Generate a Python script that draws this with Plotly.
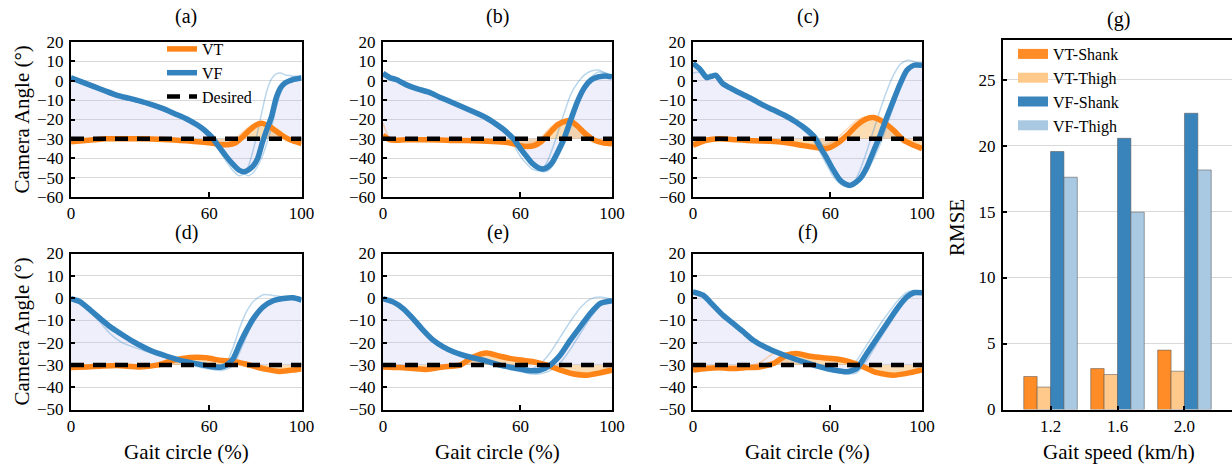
import plotly.graph_objects as go

W, H = 1232, 466
FONT = "Liberation Serif"

# ---------------- data ----------------
panel_names = ["(a)", "(b)", "(c)", "(d)", "(e)", "(f)"]
desired_angle = -30

# (a)
a_vf_x = [0, 10, 15, 20, 25, 30, 35, 40, 45, 50, 55, 58, 61, 64, 67, 70, 73, 75, 77, 79, 81, 83, 85, 87, 89, 91, 93, 96, 100]
a_vf = [1.5, -3, -5.3, -7.5, -9, -10.5, -12.3, -14.4, -17, -19.6, -23, -25.6, -29, -33.8, -38.5, -42.8, -46.2, -47, -46, -44, -40, -32, -25, -18.5, -9, -3.5, -1, 0.5, 1.5]
a_vf_t1 = [2.5, -2, -4.5, -6.5, -8.5, -10, -12, -14, -16.5, -19, -22, -24.5, -28, -35, -41, -46, -49, -48, -44, -36, -26, -15, -5, 1, 3.5, 4, 3, 2.5, 2]
a_vf_t2 = [0.5, -4, -6.5, -8.5, -10, -11.5, -13, -15, -17.5, -20.5, -24, -27, -30.5, -34, -38, -42, -45.5, -48, -49, -47.5, -44, -39, -32, -24, -14, -6, -1, 2, 2.5]
a_vt_x = [0, 5, 10, 15, 20, 30, 40, 50, 55, 60, 65, 68, 71, 74, 77, 80, 83, 86, 89, 92, 95, 100]
a_vt = [-31.5, -31, -30.5, -30, -30, -30, -30.3, -31, -31.5, -32, -33, -33, -32.3, -29.5, -26, -23, -22, -23.5, -26, -28.5, -30.5, -32.5]
a_vt_t1 = [-31, -30.5, -30, -29.5, -29.5, -29.5, -30, -30.5, -31, -31.5, -32, -32, -30.5, -27, -24, -22, -22.5, -24.5, -27, -29.5, -31, -32.5]

# (b)
b_vf_x = [0, 3, 6, 10, 15, 20, 25, 30, 35, 40, 45, 50, 53, 57, 60, 62, 65, 68, 70, 72, 74, 76, 79, 82, 85, 88, 91, 94, 97, 100]
b_vf = [3.8, 1.6, 0.5, -2, -4.2, -5.9, -8.6, -11.1, -13.7, -16.3, -19.1, -22.9, -25.5, -30, -35, -38, -42.5, -45, -45.5, -44.5, -42, -37.5, -30, -20, -10.5, -3.5, 0.5, 2, 2.5, 2]
b_vf_t1 = [4, 2.5, 1, -1.5, -4, -5.5, -8, -10.5, -13, -15.8, -18.5, -22.5, -25.8, -33, -39, -42, -45.5, -46.5, -45, -41, -35, -28, -17, -7, -1, 3, 5, 5.5, 4, 2.5]
b_vf_t2 = [3.5, 0.5, 1, -2.5, -4.5, -6.2, -9, -11.5, -14, -16.8, -19.5, -23.5, -27, -31, -36, -39.5, -43.5, -46, -47, -46.5, -44, -40, -33, -24, -13, -4, 2, 4.5, 4, 2.5]
b_vt_x = [0, 3, 10, 20, 30, 40, 50, 55, 60, 63, 66, 69, 72, 76, 80, 82, 85, 88, 92, 96, 100]
b_vt = [-28, -30.5, -30.5, -30.5, -30.8, -31, -31.5, -32, -33.5, -34, -33.5, -31.5, -28, -23, -20.8, -20.8, -23.5, -27, -30.5, -32, -32.5]
b_vt_t1 = [-22, -29.5, -30, -30, -30.5, -30.5, -31, -31.5, -32.5, -33, -32, -29.5, -25.5, -21.5, -20, -20, -22, -25.5, -29.5, -31.5, -32.5]

# (c)
c_vf_x = [0, 3, 6, 8, 10, 13, 16, 20, 25, 30, 35, 40, 45, 50, 53, 55.5, 58, 61, 64, 66.5, 68.6, 71, 73, 76, 79, 82, 84.7, 87.6, 90.5, 93.4, 96.4, 100]
c_vf = [9, 6, 1.6, 2.3, 2.8, -1.5, -3.6, -6.1, -8.9, -12.2, -15, -17.8, -21.3, -25.6, -29, -34.2, -39, -45.5, -51, -53.3, -54, -52.5, -50.5, -44.5, -35.9, -27.3, -18.7, -10, -1.5, 5.4, 8, 8]
c_vf_t1 = [8, 5, 3, 2.5, 3.5, -1, -3, -5.5, -8.5, -11.5, -14.5, -17, -20.5, -24, -27.5, -31, -37, -45, -51, -54, -54.5, -51, -46, -36, -25, -14, -5, 3, 8.5, 10.5, 10, 8]
c_vf_t2 = [4, 4.5, 2.5, 2, 2, -2, -4, -7, -9.5, -13, -16, -19, -22.5, -27.5, -31.5, -37, -42.5, -49, -53, -54.5, -54, -53, -51.5, -47, -40, -32, -23, -13, -3, 4, 7.5, 8]
c_vt_x = [0, 5.8, 11.7, 19, 26.3, 33.6, 40.9, 48.2, 55.5, 58.4, 62.8, 67.2, 71.5, 75.9, 78.8, 83.2, 87.6, 92, 96.4, 100]
c_vt = [-33.3, -30.7, -29.9, -30.5, -31, -31.2, -32, -33.5, -34.8, -35, -32.5, -28.2, -23, -19.6, -19, -21.3, -25.6, -30.7, -33.3, -35]
c_vt_t1 = [-32, -30, -29.5, -30, -30.5, -30.8, -31.5, -32.5, -33, -33, -30, -25, -20.5, -18.5, -18.5, -21, -26, -31, -33.5, -34.5]

# (d)
d_vf_x = [0, 4, 8.4, 12.7, 17, 21.4, 27.1, 34.3, 41.6, 48.8, 56, 61.8, 65, 67.5, 70.4, 73.3, 76.2, 79.1, 83.4, 87.7, 92.1, 96.4, 100]
d_vf = [-0.2, -1.7, -5.4, -9.2, -12.9, -15.9, -19.6, -23.4, -26.1, -28.3, -29.8, -30.8, -31, -30.1, -27.1, -20.4, -14.4, -9.2, -3.9, -1.2, -0.2, 0.1, -0.9]
d_vf_t1 = [0.5, -0.5, -6, -11, -16, -19.5, -22, -24.5, -27, -29, -31, -32, -31.5, -29, -22, -13, -6, -1.5, 1.5, 1.2, 0.5, 0, -0.5]
d_vf_t2 = [-0.5, -2.5, -5, -8.5, -12, -15, -19, -23, -26.5, -28.8, -30.5, -32, -32.5, -32, -30, -24, -17, -11, -5, -2, -0.5, 0, -0.8]
d_vt_x = [0, 6.9, 12.7, 19.9, 30, 37.2, 44.4, 51.7, 58.9, 64.6, 70.4, 77.6, 84.8, 90.6, 96.4, 100]
d_vt = [-31.2, -30.9, -30.6, -30.3, -30.9, -30.1, -27.9, -26.7, -26.8, -27.9, -28.3, -30.1, -32, -32.9, -32.3, -31.7]
d_vt_t1 = [-30.5, -30.5, -30, -30, -30.5, -29.5, -27.5, -26.5, -27, -28.5, -29.5, -31, -32, -32.5, -32, -31.5]

# (e)
e_vf_x = [0, 4.4, 8.8, 13.1, 17.5, 21.9, 26.3, 30.7, 36.5, 43.8, 51.1, 58.4, 64.2, 68.6, 73, 77.4, 81.8, 86.1, 90.5, 94.9, 100]
e_vf = [-0.2, -1.7, -4.7, -9.2, -14.4, -18.9, -21.9, -24.1, -26.1, -27.9, -30.1, -31.6, -32.6, -32.3, -30.1, -25.6, -18.9, -12.9, -6.9, -2.4, -1.2]
e_vf_t1 = [-0.2, -1.7, -4.7, -9.2, -14.4, -18.9, -21.9, -24.1, -26.1, -27.9, -30, -31.5, -32, -29.5, -24.5, -17.5, -10.5, -4.5, -0.5, 0.5, -0.5]
e_vf_t2 = [-0.2, -1.7, -4.7, -9.2, -14.4, -18.9, -21.9, -24.1, -26.1, -28, -30.5, -32.5, -34, -34, -32.5, -29, -23, -16, -9, -3.5, -1.5]
e_vt_x = [0, 7.3, 13.1, 19, 26.3, 33.6, 39.4, 45.3, 51.1, 58.4, 65.7, 71.5, 77.4, 83.2, 89.1, 94.9, 100]
e_vt = [-30.9, -31.2, -31.6, -32, -30.9, -30.1, -26.4, -24.6, -26.1, -27.6, -28.6, -30.1, -32.3, -34.1, -34.6, -33.5, -32.3]
e_vt_t1 = [-30.5, -30.5, -31, -31, -30.5, -29.5, -25.5, -24, -25.5, -27, -28.5, -30, -31.5, -33, -33.5, -33, -32]

# (f)
f_vf_x = [0, 4.4, 8.8, 13.1, 17.5, 21.9, 26.3, 32.1, 38, 43.8, 49.6, 55.5, 61.3, 67.2, 71.5, 75.9, 80.3, 84.7, 89.1, 93.4, 96.4, 100]
f_vf = [2.8, 1.3, -3.2, -7.7, -11.4, -15.1, -18.9, -22.3, -24.9, -27.1, -29.1, -30.9, -32.3, -33.1, -31.6, -24.9, -18.1, -11.4, -4.7, 0.6, 2.4, 2.4]
f_vf_t1 = [3.5, 2, -2.5, -7, -11, -14.5, -18.5, -22, -24.5, -27, -29, -31, -32.5, -33, -28, -21, -14, -7.5, -1.5, 2.5, 3.5, 2.5]
f_vf_t2 = [2, 0.5, -4, -8.5, -12, -15.5, -19.5, -23, -25.5, -27.5, -29.5, -31.5, -33, -34, -33.5, -28, -20.5, -13.5, -6.5, -1, 1.5, 2.5]
f_vt_x = [0, 5.8, 11.7, 17.5, 23.4, 29.2, 35, 40.9, 45.3, 51.1, 56.9, 62.8, 68.6, 74.5, 80.3, 87.6, 93.4, 100]
f_vt = [-32.3, -31.6, -31.3, -31.6, -31.2, -30.9, -29.4, -25.6, -24.9, -26.1, -26.8, -27.3, -28.6, -30.9, -33.5, -34.6, -33.8, -32.3]
f_vt_t1 = [-31.5, -31, -31, -31, -30.5, -29, -25, -24.5, -25, -26, -26.5, -27, -28.5, -31, -33, -34, -33.5, -32]

# (g) bar chart
speeds = ["1.2", "1.6", "2.0"]
vt_shank = [2.5, 3.1, 4.5]
vt_thigh = [1.7, 2.65, 2.9]
vf_shank = [19.55, 20.55, 22.45]
vf_thigh = [17.6, 14.95, 18.15]

x_ticks = [0, 60, 100]
# --------------------------------------

panels = [
    (a_vf_x, a_vf, [a_vf_t1, a_vf_t2], a_vt_x, a_vt, [a_vt_t1]),
    (b_vf_x, b_vf, [b_vf_t1, b_vf_t2], b_vt_x, b_vt, [b_vt_t1]),
    (c_vf_x, c_vf, [c_vf_t1, c_vf_t2], c_vt_x, c_vt, [c_vt_t1]),
    (d_vf_x, d_vf, [d_vf_t1, d_vf_t2], d_vt_x, d_vt, [d_vt_t1]),
    (e_vf_x, e_vf, [e_vf_t1, e_vf_t2], e_vt_x, e_vt, [e_vt_t1]),
    (f_vf_x, f_vf, [f_vf_t1, f_vf_t2], f_vt_x, f_vt, [f_vt_t1]),
]

C_VT = "#ff8418"
C_VF = "#3282be"
FILL_VF = "rgba(190,190,240,0.25)"
FILL_VT = "rgba(250,160,40,0.35)"
T_VF = "rgba(60,140,200,0.35)"
T_VT = "rgba(255,140,40,0.35)"

# pixel layout of panels (left, right, top, bottom)
col_px = [(71, 301.5), (383, 612), (693, 922)]
row_px = [(42, 197), (253.5, 409.5)]
g_px = (1003, 1232, 40, 409.5)

TICKFONT = dict(family=FONT, size=17, color="black")


def px_x(v):
    return v / W


def px_y(v):
    return 1 - v / H


fig = go.Figure()
layout = dict(
    template="none",
    width=W, height=H, margin=dict(l=0, r=0, t=0, b=0, pad=0, autoexpand=False),
    paper_bgcolor="white", plot_bgcolor="white",
    font=dict(family=FONT, size=16, color="black"),
    showlegend=True,
)
annotations = []

SP = dict(shape="spline", smoothing=0.6)

for i, (vfx, vf, vft, vtx, vt, vtt) in enumerate(panels):
    r, c = divmod(i, 3)
    k = i + 1
    xa = "x" if k == 1 else f"x{k}"
    ya = "y" if k == 1 else f"y{k}"
    base_x = [0, 100]
    base_y = [desired_angle, desired_angle]
    # VF fill
    fig.add_trace(go.Scatter(x=base_x, y=base_y, mode="lines", line=dict(width=0),
                             showlegend=False, hoverinfo="skip", xaxis=xa, yaxis=ya))
    fig.add_trace(go.Scatter(x=vfx, y=vf, mode="lines", line=dict(width=0, **SP), fill="tonexty",
                             fillcolor=FILL_VF, showlegend=False, hoverinfo="skip", xaxis=xa, yaxis=ya))
    # VT fill
    fig.add_trace(go.Scatter(x=base_x, y=base_y, mode="lines", line=dict(width=0),
                             showlegend=False, hoverinfo="skip", xaxis=xa, yaxis=ya))
    fig.add_trace(go.Scatter(x=vtx, y=vt, mode="lines", line=dict(width=0, **SP), fill="tonexty",
                             fillcolor=FILL_VT, showlegend=False, hoverinfo="skip", xaxis=xa, yaxis=ya))
    # trials
    for t in vft:
        fig.add_trace(go.Scatter(x=vfx, y=t, mode="lines", line=dict(color=T_VF, width=1.5, **SP),
                                 showlegend=False, hoverinfo="skip", xaxis=xa, yaxis=ya))
    for t in vtt:
        fig.add_trace(go.Scatter(x=vtx, y=t, mode="lines", line=dict(color=T_VT, width=1.5, **SP),
                                 showlegend=False, hoverinfo="skip", xaxis=xa, yaxis=ya))
    # means
    fig.add_trace(go.Scatter(x=vtx, y=vt, mode="lines", name="VT", line=dict(color=C_VT, width=5.5, **SP),
                             showlegend=(i == 0), legendrank=1, xaxis=xa, yaxis=ya))
    fig.add_trace(go.Scatter(x=vfx, y=vf, mode="lines", name="VF", line=dict(color=C_VF, width=5.5, **SP),
                             showlegend=(i == 0), legendrank=2, xaxis=xa, yaxis=ya))
    fig.add_trace(go.Scatter(x=base_x, y=base_y, mode="lines", name="Desired",
                             line=dict(color="black", width=4.5, dash="13px,9px"),
                             showlegend=(i == 0), legendrank=3, xaxis=xa, yaxis=ya))

    x0, x1 = col_px[c]
    y0, y1 = row_px[r]
    xkey = "xaxis" if k == 1 else f"xaxis{k}"
    ykey = "yaxis" if k == 1 else f"yaxis{k}"
    layout[xkey] = dict(domain=[px_x(x0), px_x(x1)], anchor=ya, range=[0, 100], autorange=False,
                        automargin=False,
                        tickvals=x_ticks, ticks="inside", ticklen=5, tickwidth=2, tickcolor="black",
                        showline=True, linecolor="black", linewidth=2, mirror=True,
                        showgrid=False, zeroline=False, tickfont=TICKFONT)
    yr = [-60, 20] if r == 0 else [-50, 20]
    layout[ykey] = dict(domain=[px_y(y1), px_y(y0)], anchor=xa, range=yr, autorange=False, dtick=10,
                        automargin=False,
                        ticks="inside", ticklen=4, tickwidth=2, tickcolor="black",
                        showline=True, linecolor="black", linewidth=2, mirror=True,
                        showgrid=True, gridcolor="#d9d9d9", gridwidth=1, zeroline=False,
                        tickfont=TICKFONT, ticklabelstandoff=2)
    annotations.append(dict(text=panel_names[i], x=px_x((x0 + x1) / 2), y=px_y(17 if r == 0 else 232),
                            xref="paper", yref="paper", showarrow=False, font=dict(family=FONT, size=20),
                            xanchor="center", yanchor="middle"))
    if r == 1:
        annotations.append(dict(text="Gait circle (%)", x=px_x((x0 + x1) / 2), y=px_y(452),
                                xref="paper", yref="paper", showarrow=False, font=dict(family=FONT, size=21),
                                xanchor="center", yanchor="middle"))
    if c == 0:
        annotations.append(dict(text="Camera Angle (°)", x=px_x(21), y=px_y((y0 + y1) / 2),
                                xref="paper", yref="paper", showarrow=False, font=dict(family=FONT, size=21),
                                textangle=-90, xanchor="center", yanchor="middle"))

# ----- bar chart (g) -----
bar_specs = [
    ("VT-Shank", vt_shank, "#ff8c26"),
    ("VT-Thigh", vt_thigh, "#ffc98c"),
    ("VF-Shank", vf_shank, "#3a84bc"),
    ("VF-Thigh", vf_thigh, "#a9c9e2"),
]
for name, vals, col in bar_specs:
    fig.add_trace(go.Bar(x=speeds, y=vals, name=name,
                         marker=dict(color=col, line=dict(color="rgba(90,90,90,0.55)", width=1)),
                         legendgroup=name, showlegend=False, xaxis="x7", yaxis="y7"))
for name, vals, col in bar_specs:
    fig.add_trace(go.Scatter(x=[None], y=[None], mode="lines", name=name, legendgroup=name,
                             line=dict(color=col, width=11), legend="legend2", xaxis="x7", yaxis="y7"))

gx0, gx1, gy0, gy1 = g_px
layout["xaxis7"] = dict(domain=[px_x(gx0), px_x(gx1)], anchor="y7", type="category",
                        categoryorder="array", categoryarray=speeds,
                        range=[-0.71, 2.71], autorange=False, automargin=False,
                        ticks="inside", ticklen=4, tickwidth=2, tickcolor="black",
                        showline=True, linecolor="black", linewidth=2, mirror=True,
                        showgrid=False, tickfont=TICKFONT)
layout["yaxis7"] = dict(domain=[px_y(gy1), px_y(gy0)], anchor="x7", range=[0, 28], autorange=False,
                        automargin=False,
                        tickvals=[0, 5, 10, 15, 20, 25], ticks="inside", ticklen=4, tickwidth=2, tickcolor="black",
                        showline=True, linecolor="black", linewidth=2, mirror=False,
                        showgrid=True, gridcolor="#d9d9d9", gridwidth=1, zeroline=False,
                        tickfont=TICKFONT, ticklabelstandoff=2)
layout["barmode"] = "group"
layout["bargap"] = 0.2
layout["bargroupgap"] = 0.0

annotations.append(dict(text="(g)", x=px_x(1118), y=px_y(19), xref="paper", yref="paper",
                        showarrow=False, font=dict(family=FONT, size=20), xanchor="center", yanchor="middle"))
annotations.append(dict(text="Gait speed (km/h)", x=px_x(1119), y=px_y(452), xref="paper", yref="paper",
                        showarrow=False, font=dict(family=FONT, size=21), xanchor="center", yanchor="middle"))
annotations.append(dict(text="RMSE", x=px_x(957), y=px_y(228), xref="paper", yref="paper",
                        showarrow=False, font=dict(family=FONT, size=21), textangle=-90,
                        xanchor="center", yanchor="middle"))

layout["legend"] = dict(x=px_x(162), y=px_y(32), xanchor="left", yanchor="top",
                        bgcolor="rgba(0,0,0,0)", borderwidth=0, font=dict(family=FONT, size=16), itemwidth=30,
                        tracegroupgap=0, traceorder="normal")
layout["legend2"] = dict(x=px_x(1013), y=px_y(37), xanchor="left", yanchor="top",
                         bgcolor="rgba(0,0,0,0)", borderwidth=0, font=dict(family=FONT, size=16), itemwidth=30,
                         tracegroupgap=0, traceorder="normal")
layout["annotations"] = annotations

fig.update_layout(**layout)
fig.write_html("out.html")
